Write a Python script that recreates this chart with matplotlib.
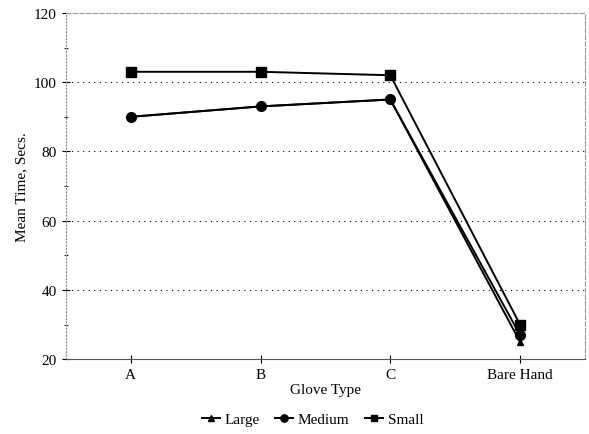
import matplotlib
matplotlib.use("Agg")
import matplotlib.pyplot as plt
from matplotlib.ticker import MultipleLocator

plt.rcParams["font.family"] = ["Liberation Serif", "DejaVu Serif"]

gloves = ["A", "B", "C", "Bare Hand"]
large = [90, 93, 95, 25]
medium = [90, 93, 95, 27]
small = [103, 103, 102, 30]

fig = plt.figure(figsize=(5.89, 4.35), dpi=100)
ax = fig.add_axes([0.112, 0.172, 0.881, 0.796])

x = range(len(gloves))
ax.plot(x, large, "k-", marker="^", markersize=5, linewidth=1.4, label="Large")
ax.plot(x, medium, "k-", marker="o", markersize=7, linewidth=1.4, label="Medium")
ax.plot(x, small, "k-", marker="s", markersize=6.5, linewidth=1.4, label="Small")

ax.set_xlim(-0.5, 3.5)
ax.set_ylim(20, 120)
ax.set_xticks(list(x))
ax.set_xticklabels(gloves)
ax.yaxis.set_major_locator(MultipleLocator(20))
ax.yaxis.set_minor_locator(MultipleLocator(10))
ax.tick_params(axis="both", labelsize=11, direction="inout", length=6, width=0.8)
ax.tick_params(axis="y", which="minor", direction="inout", length=3)

for v in [40, 60, 80, 100]:
    ax.axhline(v, color="black", linestyle=(0, (1, 4)), linewidth=0.8, zorder=0)

for s in ["top", "right"]:
    ax.spines[s].set_color("#999999")
    ax.spines[s].set_linestyle((0, (4, 2)))
    ax.spines[s].set_linewidth(0.8)
ax.spines["left"].set_color("#888888")
ax.spines["left"].set_linestyle((0, (1, 2)))
ax.spines["bottom"].set_color("#555555")

ax.set_xlabel("Glove Type", fontsize=11, labelpad=1)
ax.set_ylabel("Mean Time, Secs.", fontsize=11)

ax.legend(loc="upper center", bbox_to_anchor=(0.475, -0.115), ncol=3, frameon=False,
          fontsize=11, handlelength=1.2, handletextpad=0.3, columnspacing=1.0,
          markerscale=0.75)

fig.savefig("out.png", dpi=100)
